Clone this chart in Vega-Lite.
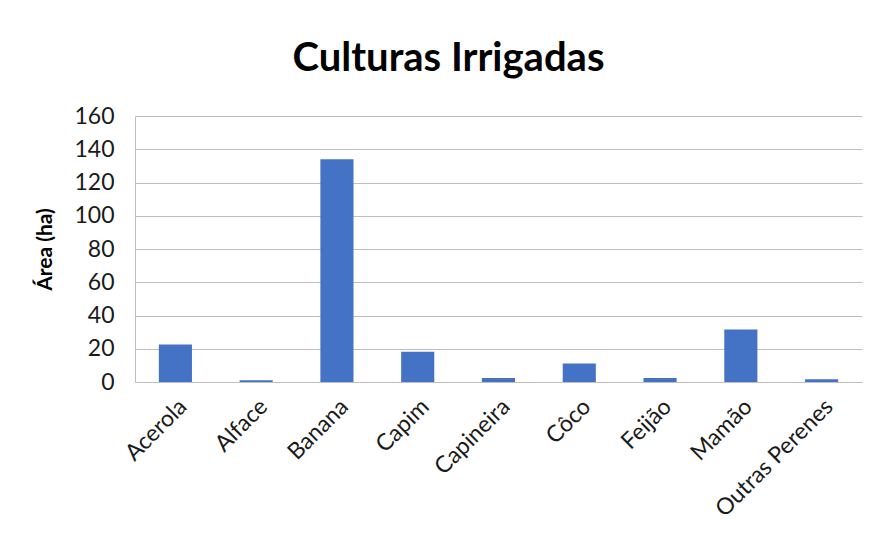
{
  "$schema": "https://vega.github.io/schema/vega-lite/v6.json",
  "width": 727,
  "height": 266,
  "autosize": "none",
  "padding": {"left": 135, "top": 116, "right": 14, "bottom": 156},
  "background": "white",
  "title": {
    "text": "Culturas Irrigadas",
    "font": "Lato",
    "fontSize": 40,
    "fontWeight": "bold",
    "color": "#000000",
    "anchor": "middle",
    "offset": 26,
    "dx": -50
  },
  "data": {
    "values": [
      {"cultura": "Acerola", "area": 22.5},
      {"cultura": "Alface", "area": 1.0},
      {"cultura": "Banana", "area": 134},
      {"cultura": "Capim", "area": 18.2},
      {"cultura": "Capineira", "area": 2.4},
      {"cultura": "Côco", "area": 11.1},
      {"cultura": "Feijão", "area": 2.4},
      {"cultura": "Mamão", "area": 31.6},
      {"cultura": "Outras Perenes", "area": 1.6}
    ]
  },
  "mark": {"type": "bar", "color": "#4472C4"},
  "encoding": {
    "x": {
      "field": "cultura",
      "type": "nominal",
      "sort": null,
      "scale": {"paddingInner": 0.59, "paddingOuter": 0.295},
      "axis": {
        "title": null,
        "labelAngle": -45,
        "labelFont": "Lato",
        "labelFontSize": 23,
        "labelColor": "#1a1a1a",
        "ticks": false,
        "domain": true,
        "domainColor": "#bfbfbf",
        "labelPadding": 13
      }
    },
    "y": {
      "field": "area",
      "type": "quantitative",
      "scale": {"domain": [0, 160], "nice": false},
      "axis": {
        "title": "Área (ha)",
        "titleFont": "Lato",
        "titleFontSize": 21,
        "titleFontWeight": "bold",
        "titleColor": "#000000",
        "titlePadding": 18,
        "values": [0, 20, 40, 60, 80, 100, 120, 140, 160],
        "labelFont": "Lato",
        "labelFontSize": 23,
        "labelColor": "#1a1a1a",
        "labelPadding": 21,
        "ticks": false,
        "domain": true,
        "domainColor": "#bfbfbf",
        "grid": true,
        "gridColor": "#bfbfbf",
        "gridWidth": 1.2
      }
    }
  },
  "config": {"view": {"stroke": null}}
}
